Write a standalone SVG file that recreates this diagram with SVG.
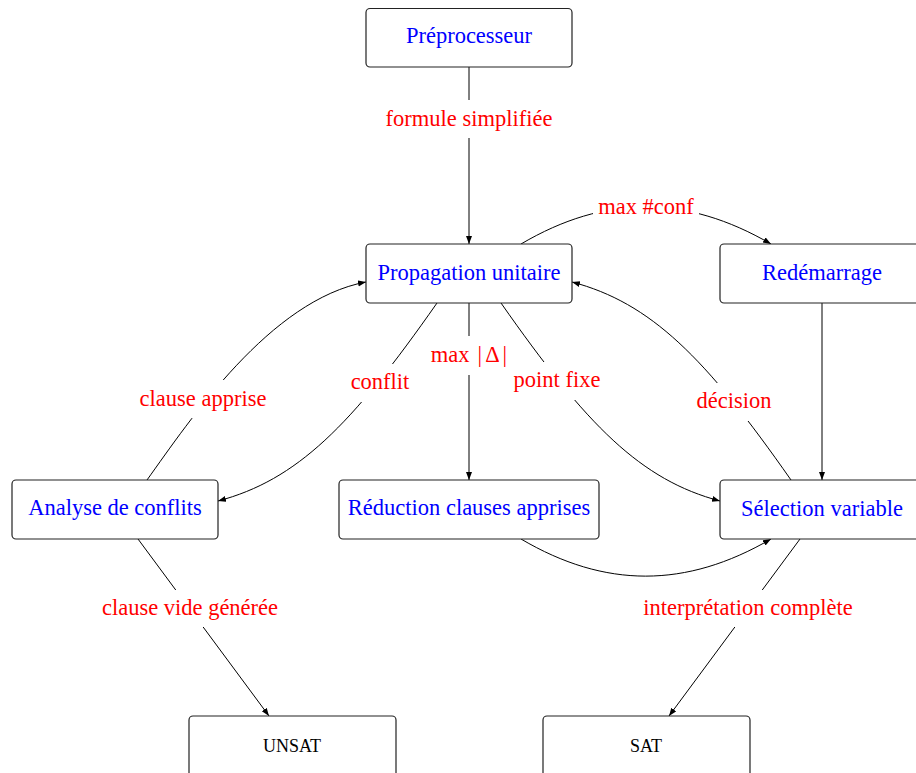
<svg xmlns="http://www.w3.org/2000/svg" width="916" height="773" viewBox="0 0 916 773">
  <defs>
    <marker id="arrow" markerUnits="userSpaceOnUse" markerWidth="10" markerHeight="8" refX="8" refY="3" orient="auto">
      <path d="M0,0 L8,3 L0,6 z" fill="#000"/>
    </marker>
    <style>
      .box { fill: #fff; stroke: #222; stroke-width: 1.2; }
      .node-text { font-family: "Liberation Serif", "Times New Roman", serif; font-size: 22.5px; fill: #0000ff; text-anchor: middle; }
      .result-text { font-family: "Liberation Serif", "Times New Roman", serif; font-size: 18px; fill: #000; text-anchor: middle; }
      .edge { fill: none; stroke: #000; stroke-width: 1; marker-end: url(#arrow); }
      .label-bg { fill: #fff; stroke: none; }
      .label { font-family: "Liberation Serif", "Times New Roman", serif; font-size: 22.5px; fill: #ff0000; text-anchor: middle; }
    </style>
  </defs>
  <rect width="916" height="773" fill="#fff"/>

  <!-- connectors -->
  <g id="edges">
    <path class="edge" d="M469,67 L469,244"/>
    <path class="edge" d="M521,244 C605,194.5 686,194.5 771,244"/>
    <path class="edge" d="M469,303 L469,480"/>
    <path class="edge" d="M822,303 L822,480"/>
    <path class="edge" d="M147,480 C190,420 270,300 366,282"/>
    <path class="edge" d="M437,303 C351,426 297,480 218,501"/>
    <path class="edge" d="M501,303 C587,426 641,480 720,501"/>
    <path class="edge" d="M791,480 C705,357 651,303 572,282"/>
    <path class="edge" d="M521,539 C605,588.5 686,588.5 771,539"/>
    <path class="edge" d="M138,539 L269,716"/>
    <path class="edge" d="M800,539 L669,716"/>

    <!-- edge labels on white backgrounds -->
    <g id="label-formule">
      <rect class="label-bg" x="381" y="100" width="176" height="38"/>
      <text class="label" x="469" y="126">formule simplifiée</text>
    </g>
    <g id="label-maxconf">
      <rect class="label-bg" x="593" y="188" width="106" height="38"/>
      <text class="label" x="646" y="214">max #conf</text>
    </g>
    <g id="label-maxdelta">
      <rect class="label-bg" x="425" y="336" width="88" height="39"/>
      <text class="label" x="469" y="362">max<tspan dx="8">|</tspan><tspan dx="3">Δ</tspan><tspan dx="3">|</tspan></text>
    </g>
    <g id="label-conflit">
      <rect class="label-bg" x="346" y="364" width="68" height="38"/>
      <text class="label" x="380" y="389">conflit</text>
    </g>
    <g id="label-clause-apprise">
      <rect class="label-bg" x="135" y="380" width="136" height="38"/>
      <text class="label" x="203" y="406">clause apprise</text>
    </g>
    <g id="label-point-fixe">
      <rect class="label-bg" x="509" y="362" width="96" height="38"/>
      <text class="label" x="557" y="387">point fixe</text>
    </g>
    <g id="label-decision">
      <rect class="label-bg" x="692" y="383" width="84" height="38"/>
      <text class="label" x="734" y="408">décision</text>
    </g>
    <g id="label-clause-vide">
      <rect class="label-bg" x="97" y="590" width="186" height="37"/>
      <text class="label" x="190" y="615">clause vide générée</text>
    </g>
    <g id="label-interpretation">
      <rect class="label-bg" x="638" y="590" width="220" height="37"/>
      <text class="label" x="748" y="615">interprétation complète</text>
    </g>
  </g>

  <!-- nodes -->
  <g id="preprocesseur">
    <rect class="box" x="366" y="8.5" width="206" height="58.5" rx="4"/>
    <text class="node-text" x="469" y="43">Préprocesseur</text>
  </g>
  <g id="propagation">
    <rect class="box" x="366" y="244" width="206" height="59" rx="4"/>
    <text class="node-text" x="469" y="280">Propagation unitaire</text>
  </g>
  <g id="redemarrage">
    <rect class="box" x="720" y="244" width="206" height="59" rx="4"/>
    <text class="node-text" x="822" y="280">Redémarrage</text>
  </g>
  <g id="analyse">
    <rect class="box" x="12" y="480" width="206" height="59" rx="4"/>
    <text class="node-text" x="115" y="515">Analyse de conflits</text>
  </g>
  <g id="reduction">
    <rect class="box" x="339" y="480" width="260" height="59" rx="4"/>
    <text class="node-text" x="469" y="515">Réduction clauses apprises</text>
  </g>
  <g id="selection">
    <rect class="box" x="720" y="480" width="206" height="59" rx="4"/>
    <text class="node-text" x="822" y="516">Sélection variable</text>
  </g>
  <g id="unsat">
    <rect class="box" x="189" y="716" width="207" height="70" rx="4"/>
    <text class="result-text" x="292" y="752">UNSAT</text>
  </g>
  <g id="sat">
    <rect class="box" x="543" y="716" width="207" height="70" rx="4"/>
    <text class="result-text" x="646" y="752">SAT</text>
  </g>
</svg>
